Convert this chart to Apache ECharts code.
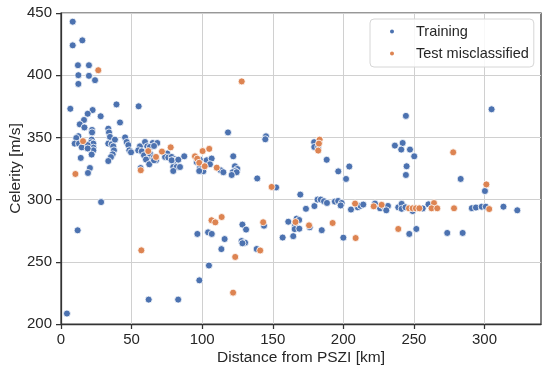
<!DOCTYPE html>
<html><head><meta charset="utf-8">
<script src="https://cdn.jsdelivr.net/npm/echarts@6/dist/echarts.min.js"></script>
<style>html,body{margin:0;padding:0;background:#fff}#c{width:550px;height:371px}</style>
</head><body><div id="c"></div>
<script>
// Distance from PSZI [km], Celerity [m/s]
const trainingPoints = [
[8.3,443],[8.3,424],[15.1,428],[12,408],[19.8,408],[12.3,400],[19.8,399.5],[24.1,396],[12.3,393],
[6.6,373],[39.3,376.5],[55,375],[22.4,372],[18.9,369],[28.1,367],[16.3,364],[41.8,362],[13.3,360.5],[16.6,358],[22,356],[33.5,357],[34,354],[22,354],
[45.4,350],[12.3,351],[10.8,349.5],[21.7,348.2],[9.7,345],[12.7,345],[14.7,342],[21.3,346],[21.3,343.8],[21.3,341.7],[21.3,339.6],[22.9,345],[22.9,341.8],[22.9,339.6],[18.9,343.8],[18.9,341.1],[14,333.5],[21.7,336.2],[20.5,325.4],[19.1,321.4],
[34.7,350.4],[33.5,345],[35.9,344.5],[38.2,348.2],[37,342.8],[37.5,339.6],[36.6,336.4],[35.4,334.2],[33.5,331],
[46.5,346.3],[47.7,343.8],[48.4,339.6],[49.6,338],
[55.9,342.8],[59.5,346.3],[61.1,342.8],[65,345.5],[68.2,345.5],[54.7,339.6],[57.2,338.8],[58.8,335.6],[63,335],[60.2,332.2],[62.5,328.4],[56.4,325.4],[63,342.3],[65.9,343.1],[63,337],[65.9,334.2],[67.3,331.6],[65.9,331.6],
[75.3,337],[73.7,334.3],[76,333.8],[78.4,334.3],[80.7,332.5],[81.9,331.6],[79.5,330.3],[78.4,331.6],[83.1,332.1],[79.5,326.2],[81.9,326.2],[84.3,326.2],[79.5,323],[87.3,334.8],
[96.1,330.2],[98.4,332.1],[103.2,331.6],[106.7,333],[105.5,328.4],[98.4,325.7],[100.8,322.8],[97.9,323],
[118.3,354],[113.1,323.6],[115,322],[122,334.8],[123.2,326.8],[124.9,324.6],[123.2,323],[121.6,322],[124.4,322],[120.9,319.8],
[139,317],[145.2,350.9],[144.7,348.5],[152.4,309.8],
[179.3,346.2],[179.4,342.3],[182.2,342.3],[188.2,332],[196.4,322.7],[204.2,326.6],[201.9,316.6],
[236.5,343.4],[242,345.5],[241,340.2],[247.2,340.2],[250.2,334.8],[244.8,326.8],[244.3,319.8],[244.3,367.3],[305,372.6],[283.1,316.6],[300.3,306.9],
[169.5,304],[173.5,292.6],[179.5,294.8],[181.7,300],[184,300],[186.3,298.7],[188.4,297.3],[194,298.4],[196.3,298.9],[198.8,297.3],[198.1,295.3],[205.4,292],[210.2,293.8],[212.2,295],[214.1,296],[222.4,296.8],[226,293],[229.2,294.1],[231.6,294.9],[230.4,291.4],[238.9,293.8],[241.3,296.6],[241.3,292.6],[244,293.8],[249.1,290.8],[256.2,292.9],[260.3,296.2],[291,293.1],[293.9,293.6],[298,294.3],[300.9,294.3],[313.4,294.3],[323.2,291.4],
[28.4,298],[11.8,275.3],[4.2,208.4],[62.1,219.6],[83,219.6],
[96.6,272.4],[104.2,273.7],[106.8,272.4],[115.9,268.3],[113.6,260.2],[104.8,247],[98,235.1],
[128.5,279.9],[131.1,275.9],[127.9,266.7],[130.4,265.4],[128.5,264.9],[138.6,260.3],[143.8,279],[157,269.5],[164.5,270.6],[161,282.2],[165.7,279.6],[166.9,284.7],[168.7,283.6],[165.5,276.3],[168.8,276.6],[176.2,277.8],[184.7,275.4],[200,269.4],[246.7,272.4],[251.7,276.4],[273.6,273.2],[284.5,273.2]
];
const testMisclassifiedPoints = [
[26.4,404],[15.6,347],[10.2,320.6],[61.8,339],[67.3,334.3],[56.5,323.6],[71.5,338.6],[77.7,342],[94.9,334.8],[96.5,332.9],[100.3,339],[105,340.8],[97.9,329.6],[101.8,326.8],[110.3,325.7],[128,395],[149.2,310.2],[183.2,348.2],[182.7,345],[182.2,339.4],[277.8,338],[301.3,312.2],
[208.3,296.8],[221.5,294.6],[227.1,295.8],[246.5,293],[249.1,293],[251.4,293],[253.8,293],[264.2,297.2],[262.5,293],[266.5,293],[278.4,293],[303.3,292.4],
[56.9,259.2],[106.6,283.4],[109.3,281.7],[113.8,286],[123.4,253.9],[121.9,225.2],[141.1,259.1],[143.2,281.8],[166.1,282],[175.7,279.3],[192.4,281.2],[208.7,269.1],[238.9,276.4]
];
const seriesNames = ['Training', 'Test misclassified'];
const xTicks = [0, 50, 100, 150, 200, 250, 300];
const yTicks = [200, 250, 300, 350, 400, 450];
const xTitle = 'Distance from PSZI [km]';
const yTitle = 'Celerity [m/s]';

const FONT = '"Liberation Sans", Arial, sans-serif';
const TXT = '#262626';
const chart = echarts.init(document.getElementById('c'), null, {renderer: 'canvas'});
chart.setOption({
  animation: false,
  backgroundColor: '#fff',
  textStyle: {fontFamily: FONT},
  grid: {left: 61, right: 9, top: 13, bottom: 47, show: true, borderColor: '#333', borderWidth: 1.25,
         backgroundColor: 'transparent', outerBoundsMode: 'none', containLabel: false},
  legend: {
    left: 370, top: 19, orient: 'vertical',
    backgroundColor: 'rgba(255,255,255,0.85)', borderColor: '#d6d6d6', borderWidth: 1, borderRadius: 4,
    padding: [5, 5, 6, 18], itemGap: 7, itemWidth: 6, itemHeight: 6,
    textStyle: {fontSize: 14.5, color: TXT, fontFamily: FONT, padding: [0, 0, 0, 16]},
    data: seriesNames
  },
  xAxis: {
    type: 'value', min: 0, max: 340, interval: 50,
    name: xTitle, nameLocation: 'middle', nameGap: 26, nameMoveOverlap: false,
    nameTextStyle: {fontSize: 15.5, color: TXT, fontFamily: FONT},
    axisLine: {show: true, lineStyle: {color: '#333', width: 1.25}},
    axisTick: {show: true, length: 5, lineStyle: {color: '#333', width: 1.25}, customValues: xTicks},
    axisLabel: {fontSize: 15, color: TXT, margin: 8, fontFamily: FONT, customValues: xTicks},
    splitLine: {show: true, lineStyle: {color: '#d0d0d0', width: 1}}
  },
  yAxis: {
    type: 'value', min: 200, max: 450, interval: 50,
    name: yTitle, nameLocation: 'middle', nameGap: 37, nameMoveOverlap: false,
    nameTextStyle: {fontSize: 15.5, color: TXT, fontFamily: FONT},
    axisLine: {show: true, lineStyle: {color: '#333', width: 1.25}},
    axisTick: {show: true, length: 5, lineStyle: {color: '#333', width: 1.25}},
    axisLabel: {fontSize: 15, color: TXT, margin: 9, fontFamily: FONT},
    splitLine: {show: true, lineStyle: {color: '#d0d0d0', width: 1}}
  },
  series: [
    {name: seriesNames[0], type: 'scatter', data: trainingPoints, symbol: 'circle', symbolSize: 7,
     itemStyle: {color: '#4c72b0', borderColor: '#fff', borderWidth: 0.8, opacity: 1}},
    {name: seriesNames[1], type: 'scatter', data: testMisclassifiedPoints, symbol: 'circle', symbolSize: 7,
     itemStyle: {color: '#dd8452', borderColor: '#fff', borderWidth: 0.8, opacity: 1}}
  ]
});
</script>
</body></html>
